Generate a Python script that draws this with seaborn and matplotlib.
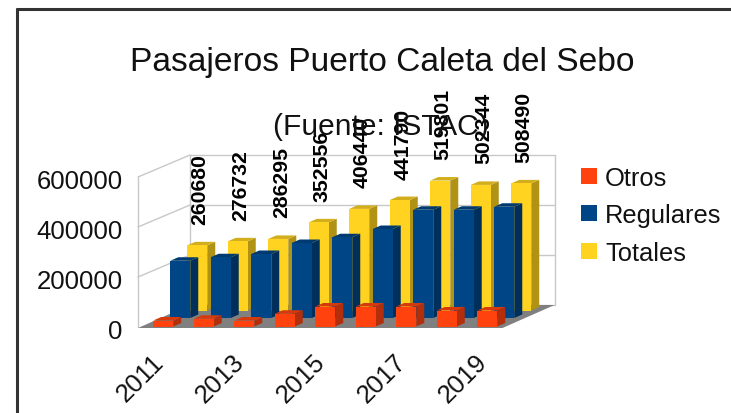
import matplotlib
matplotlib.use("Agg")
import matplotlib.pyplot as plt
import seaborn as sns
from matplotlib.patches import Polygon, Rectangle
from matplotlib.transforms import Affine2D

years = [2011, 2012, 2013, 2014, 2015, 2016, 2017, 2018, 2019]
otros = [24000, 31000, 24000, 51000, 80000, 80000, 80000, 64000, 64000]
regulares = [229000, 243000, 256000, 300000, 323000, 356000, 433000, 433000, 445000]
totales = [260680, 276732, 286295, 352556, 406440, 441790, 519801, 502344, 508490]
y_ticks = [0, 200000, 400000, 600000]
x_labels = ["2011", "", "2013", "", "2015", "", "2017", "", "2019"]
title = "Pasajeros Puerto Caleta del Sebo"
subtitle = "(Fuente: ISTAC)"

W, H = 731, 414
FONT = "Liberation Sans"
sns.set_style("white")
plt.rcParams["font.family"] = [FONT, "DejaVu Sans"]

fig = plt.figure(figsize=(W / 100, H / 100), dpi=100)
# plot box of the front plane, in pixels
left, right, top, bottom = 138, 502.5, 178, 328
ax = fig.add_axes([left / W, 1 - bottom / H, (right - left) / W, (bottom - top) / H])
ax.patch.set_alpha(0)
for s in ax.spines.values():
    s.set_visible(False)


def shifted(dx, dy):
    """Data transform displaced by a screen offset given in pixels (y up)."""
    return ax.transData + Affine2D().translate(dx, dy)


WALL_DX, WALL_DY = 52, 22
GRID = "#c8c8c8"
BAR_W = 20 / 40.5
DEPTH_DX, DEPTH_DY = 8, 3.5

series = [
    ("Totales", totales, "#FFD320", "#B09214", "#D2AE1C", 39, 16.5, 3),
    ("Regulares", regulares, "#004586", "#002F5C", "#003A70", 22, 9, 4),
    ("Otros", otros, "#FF420E", "#B32E0A", "#D63A0C", 5, 0.5, 5),
]

# Draw the columns back to front; each series sits on its own depth row.
for name, values, front, side, cap, dx, dy, z in series:
    before = len(ax.patches)
    sns.barplot(x=years, y=values, color=front, saturation=1, width=BAR_W,
                ax=ax, zorder=z, linewidth=0)
    ax.set_xlim(-0.5, 8.5)
    ax.set_ylim(0, 600000)
    tr = shifted(dx, dy)
    for patch in ax.patches[before:]:
        patch.set_transform(tr)
        patch.set_clip_on(False)
        patch.set_zorder(z + 0.2)
        x0, w, h = patch.get_x(), patch.get_width(), patch.get_height()
        p0 = ax.transData.transform((x0, 0))
        p1 = ax.transData.transform((x0 + w, h))
        xa, xb = p0[0] + dx, p1[0] + dx
        ya, yb = p0[1] + dy, p1[1] + dy
        side_face = Polygon([(xb, ya), (xb + DEPTH_DX, ya + DEPTH_DY),
                             (xb + DEPTH_DX, yb + DEPTH_DY), (xb, yb)],
                            closed=True, fc=side, ec="none", transform=None, zorder=z)
        top_face = Polygon([(xa, yb), (xb, yb), (xb + DEPTH_DX, yb + DEPTH_DY),
                            (xa + DEPTH_DX, yb + DEPTH_DY)],
                           closed=True, fc=cap, ec="none", transform=None, zorder=z)
        for face in (side_face, top_face):
            ax.add_artist(face)
            face.set_clip_on(False)

# Walls and floor of the 3D box
wall = shifted(WALL_DX, WALL_DY)
for v in y_ticks:
    a = ax.transData.transform((-0.5, v))
    ax.plot([-0.5, 8.5], [v, v], color=GRID, lw=1, transform=wall, zorder=1, clip_on=False)
    if v > 0:
        ln = plt.Line2D([a[0], a[0] + WALL_DX], [a[1], a[1] + WALL_DY],
                        color=GRID, lw=1, transform=None, zorder=1)
        ax.add_artist(ln)
        ln.set_clip_on(False)
for xv, tr in [(-0.5, ax.transData), (-0.5, wall), (8.5, wall)]:
    ax.plot([xv, xv], [0, 600000], color=GRID, lw=1, transform=tr, zorder=1, clip_on=False)
a = ax.transData.transform((-0.5, 0))
b = ax.transData.transform((8.5, 0))
floor = Polygon([(a[0], a[1] - 1), (b[0], b[1] - 1), (b[0] + WALL_DX, b[1] + WALL_DY),
                 (a[0] + WALL_DX, a[1] + WALL_DY)], closed=True, fc="#808080",
                ec="none", transform=None, zorder=2)
ax.add_artist(floor)
floor.set_clip_on(False)

# Value labels above the yellow columns
label_tr = shifted(42, 38)
for i, v in enumerate(totales):
    ax.text(i, v, str(v), rotation=90, ha="center", va="bottom", fontsize=15.3,
            fontweight="bold", color="black", transform=label_tr, zorder=8, clip_on=False)

ax.set_yticks(y_ticks)
ax.set_yticklabels([str(v) for v in y_ticks], fontsize=18.5, color="#111111")
ax.set_xticks(range(len(years)))
ax.set_xticklabels(x_labels, rotation=45, ha="right", rotation_mode="anchor",
                   fontsize=18.5, color="#111111")
ax.tick_params(axis="y", length=0, pad=11)
ax.tick_params(axis="x", length=0, pad=16)
for lab in ax.get_xticklabels():
    lab.set_transform(lab.get_transform() + Affine2D().translate(-7, 0))
for lab in ax.get_yticklabels():
    lab.set_transform(lab.get_transform() + Affine2D().translate(0, -2))
ax.set_xlabel("")
ax.set_ylabel("")

# Titles
fig.text(382.5 / W, 1 - 62.5 / H, title, ha="center", va="center", fontsize=24.1, color="#111111")
fig.text(381 / W, 1 - 127 / H, subtitle, ha="center", va="center", fontsize=21.5, color="#111111")

# Legend
for name, color, yp in [("Otros", "#FF420E", 176.5), ("Regulares", "#004586", 214), ("Totales", "#FFD320", 252)]:
    fig.add_artist(Rectangle((581 / W, 1 - (yp + 8) / H), 16 / W, 16 / H, fc=color, ec="none",
                             transform=fig.transFigure))
    fig.text(605 / W, 1 - (yp + 2) / H, name, ha="left", va="center", fontsize=18.4, color="#111111")

# Dark frame along the top and left edges
fig.add_artist(plt.Line2D([17 / W, 17 / W], [0, 1 - 10 / H], color="#333333", lw=2.2,
                          transform=fig.transFigure))
fig.add_artist(plt.Line2D([17 / W, 1], [1 - 10 / H, 1 - 10 / H], color="#333333", lw=2.2,
                          transform=fig.transFigure))

fig.savefig("out.png", dpi=100)
